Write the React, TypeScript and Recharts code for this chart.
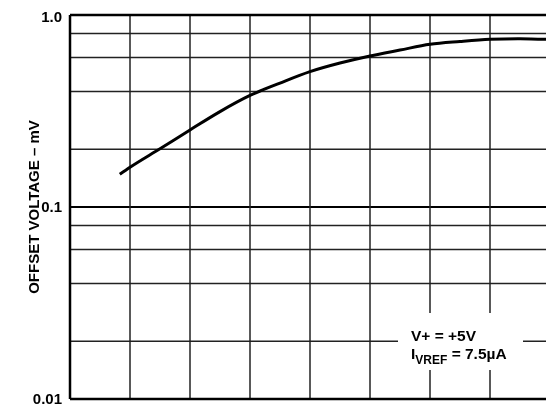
import React from 'react';
import { LineChart, Line, XAxis, YAxis, ReferenceLine } from 'recharts';

const xPositions = [0.83, 1, 1.5, 2, 2.5, 3, 3.5, 4, 4.5, 5, 5.5, 6, 6.5, 7, 7.5, 8];
const offsetVoltage = [0.148, 0.161, 0.201, 0.252, 0.314, 0.381, 0.442, 0.507, 0.562, 0.612, 0.657, 0.704, 0.728, 0.747, 0.753, 0.745];

const yLabelTicks = [0.01, 0.1, 1];
const yMinorGrid = [0.02, 0.04, 0.06, 0.08, 0.2, 0.4, 0.6, 0.8];
const yMajorGrid = [0.1];
const xGrid = [1, 2, 3, 4, 5, 6, 7, 8];

const data = xPositions.map((x, i) => ({ x, v: offsetVoltage[i] }));

const FONT = '"Liberation Sans", Arial, Helvetica, sans-serif';

const fmt = (v: number) => (v >= 1 ? '1.0' : v >= 0.1 ? '0.1' : '0.01');

const YTitle = (props: any) => {
  const vb = props.viewBox || { x: 0, y: 0, width: 62, height: 384 };
  const cx = vb.x + 31;
  const cy = vb.y + vb.height / 2;
  return (
    <text
      x={cx}
      y={cy}
      transform={`rotate(-90 ${cx} ${cy})`}
      textAnchor="middle"
      fontFamily={FONT}
      fontWeight="bold"
      fontSize={15}
      fill="#000"
    >
      OFFSET VOLTAGE – mV
    </text>
  );
};

export default function App() {
  return (
    <div style={{ position: 'fixed', left: 8, top: 8, width: 538, height: 401, overflow: 'hidden' }}>
      <LineChart width={545} height={400} data={data} margin={{ top: 7, right: 3, left: 0, bottom: 9 }}>
        <XAxis dataKey="x" type="number" domain={[0, 8]} hide allowDataOverflow />
        <YAxis
          scale="log"
          type="number"
          domain={[0.01, 1]}
          ticks={yLabelTicks}
          allowDataOverflow
          width={62}
          tickFormatter={fmt}
          tickLine={false}
          axisLine={{ stroke: '#000', strokeWidth: 2.5 }}
          tick={{ fill: '#000', fontSize: 15, fontWeight: 'bold', fontFamily: FONT }}
          label={<YTitle />}
        />
        {yMinorGrid.map((y) => (
          <ReferenceLine key={'h' + y} y={y} stroke="#222" strokeWidth={1.5} />
        ))}
        {yMajorGrid.map((y) => (
          <ReferenceLine key={'H' + y} y={y} stroke="#000" strokeWidth={2} />
        ))}
        {xGrid.map((x) => (
          <ReferenceLine key={'v' + x} x={x} stroke="#222" strokeWidth={1.5} />
        ))}
        <ReferenceLine y={1} stroke="#000" strokeWidth={2.5} />
        <ReferenceLine y={0.01} stroke="#000" strokeWidth={2.5} />
        <Line
          type="monotone"
          dataKey="v"
          stroke="#000"
          strokeWidth={3}
          dot={false}
          isAnimationActive={false}
        />
      </LineChart>
      <div
        style={{
          position: 'absolute',
          left: 390,
          top: 305,
          width: 125,
          height: 57,
          background: '#fff',
          fontFamily: FONT,
          fontWeight: 'bold',
          fontSize: 15.5,
          color: '#000',
        }}
      >
        <div style={{ position: 'absolute', left: 13, top: 15, whiteSpace: 'nowrap', lineHeight: '15px' }}>V+ = +5V</div>
        <div style={{ position: 'absolute', left: 13, top: 33, whiteSpace: 'nowrap', lineHeight: '15px' }}>
          I<span style={{ position: 'relative', top: 5, fontSize: 12 }}>VREF</span> = 7.5µA
        </div>
      </div>
    </div>
  );
}
